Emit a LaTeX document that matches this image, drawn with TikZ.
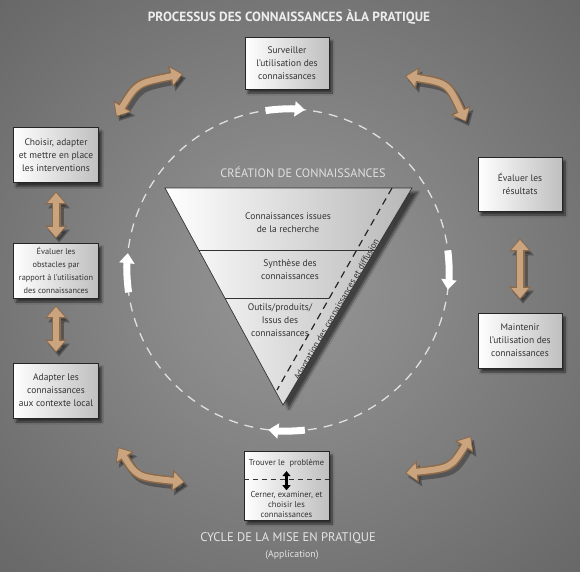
\documentclass[tikz,border=0pt]{standalone}
\usepackage{fontspec}
\setmainfont{PT Sans}
\usetikzlibrary{arrows.meta,shadows,shadows.blur}
\definecolor{bgA}{HTML}{959595}
\definecolor{bgB}{HTML}{8A8A8A}
\definecolor{bgC}{HTML}{6C6C6C}
\definecolor{bgD}{HTML}{585858}
\definecolor{bgE}{HTML}{4A4A4A}
\definecolor{tanc}{HTML}{C9A47F}
\definecolor{tand}{HTML}{8C6A4A}
\definecolor{txt}{HTML}{333333}
\definecolor{ltxt}{HTML}{EDEDED}
\pgfdeclareradialshading{bgshade}{\pgfpoint{0bp}{0bp}}{color(0bp)=(bgA); color(10bp)=(bgB); color(32bp)=(bgC); color(48bp)=(bgD); color(72bp)=(bgE)}
\begin{document}
\begin{tikzpicture}[x=1pt,y=-1pt,
  box/.style={draw=black!85, line width=0.7pt, left color=white, right color=black!25,
    align=center, text=txt, inner sep=1pt, font=\fontsize{9.5}{13}\selectfont,
    blur shadow={shadow xshift=3pt, shadow yshift=-4pt, shadow blur steps=10, shadow opacity=60}},
  tritext/.style={align=center, text=txt, inner sep=1pt, font=\fontsize{9.5}{13}\selectfont},
  btext/.style={align=center, text=txt, inner sep=1pt, font=\fontsize{8.5}{10}\selectfont},
  tanS/.style={line width=9pt, draw=black, opacity=0.3,
    {Triangle[width=21pt,length=13pt]}-{Triangle[width=21pt,length=13pt]},
    transform canvas={xshift=3pt,yshift=-4pt}},
  tanO/.style={line width=9pt, draw=tand,
    {Triangle[width=21pt,length=13pt]}-{Triangle[width=21pt,length=13pt]}},
  tanI/.style={line width=6pt, draw=tanc,
    {Triangle[width=16.5pt,length=10pt]}-{Triangle[width=16.5pt,length=10pt]}},
  warrow/.style={draw=white, line width=7pt, -{Triangle[width=15pt,length=10pt]}},
  blk/.style={draw=black, line width=2.5pt, {Triangle[width=8pt,length=5pt]}-{Triangle[width=8pt,length=5pt]}}
]
\useasboundingbox (0,0) rectangle (580,571);
\shade[shading=bgshade] (0,0) rectangle (580,571);

% title
\node[font=\bfseries\fontsize{13.3}{15}\selectfont, text=ltxt] (title) at (289,17) {PROCESSUS DES CONNAISSANCES ÀLA PRATIQUE};

% dashed cycle circle
\draw[draw=white!88!black, line width=1.3pt, dash pattern=on 9pt off 7pt] (288,270) circle[radius=161];

% white direction arrows on the circle
\draw[warrow] (288,270) ++(262:161) arc[start angle=262, end angle=276, radius=161];
\draw[warrow] (288,270) ++(-7:161) arc[start angle=-7, end angle=7, radius=161];
\draw[warrow] (288,270) ++(84:161) arc[start angle=84, end angle=97, radius=161];
\draw[warrow] (288,270) ++(172:161) arc[start angle=172, end angle=186, radius=161];

% knowledge creation funnel
\node[font=\fontsize{12.2}{14}\selectfont, text=black!12] (crea) at (303,172) {CRÉATION DE CONNAISSANCES};
\coordinate (tA) at (165,188);
\coordinate (tB) at (412,188);
\coordinate (tC) at (283,405);
\path[blur shadow={shadow xshift=6pt, shadow yshift=-4pt, shadow blur steps=10, shadow opacity=55},
  left color=white, right color=black!28, draw=black!80, line width=0.7pt]
  (tA) -- (tB) -- (tC) -- cycle;
\coordinate (l1a) at (198.7,250);
\coordinate (l1b) at (375.1,250);
\coordinate (l2a) at (224.8,298);
\coordinate (l2b) at (329,298);
\draw[black!80, line width=0.7pt] (l1a) -- (l1b);
\draw[black!80, line width=0.7pt] (l2a) -- (l2b);
\coordinate (dA) at (392,188);
\coordinate (dB) at (277,390);
\draw[black!85, line width=1.2pt, dash pattern=on 7pt off 5pt] (dA) -- (dB);
\node[tritext] (t1) at (288,223) {Connaissances issues\\de la recherche};
\node[tritext] (t2) at (290,270) {Synthèse des\\connaissances};
\node[tritext] (t3) at (280,320) {Outils/produits/\\Issus des\\connaissances};
\node[rotate=60, text=txt, inner sep=1pt, font=\fontsize{9}{11}\selectfont] (adapt) at (337,310) {Adaptation des connaissances et diffusion};

% boxes
\node[box, minimum width=84, minimum height=52] (top) at (287,63) {Surveiller\\l’utilisation des\\connaissances};
\node[box, minimum width=85, minimum height=55] (l1) at (56,155) {Choisir, adapter\\et mettre en place\\les interventions};
\node[box, minimum width=85, minimum height=55, font=\fontsize{8.3}{12.8}\selectfont] (l2) at (56,270.5) {Évaluer les\\obstacles par\\rapport à l’utilisation\\des connaissances};
\node[box, minimum width=85, minimum height=55] (l3) at (56,390.5) {Adapter les\\connaissances\\aux contexte local};
\node[box, minimum width=84, minimum height=54] (r1) at (520,184) {Évaluer les\\résultats};
\node[box, minimum width=84, minimum height=55] (r2) at (520,340.5) {Maintenir\\l’utilisation des\\connaissances};
\node[box, minimum width=85, minimum height=69] (bb) at (286.5,485.5) {};
\draw[black!80, line width=0.8pt, dash pattern=on 5pt off 4pt] ([yshift=6.5pt]bb.west) -- ([yshift=6.5pt]bb.east);
\node[btext] (bt1) at (286.5,463) {Trouver le\ \ problème};
\node[btext] (bt2) at (286.5,505) {Cerner, examiner, et\\choisir les\\connaissances};
\draw[blk, shorten <=3pt, shorten >=0.5pt] (bt1) -- (bt2);

\node[font=\fontsize{12.5}{14}\selectfont, text=black!10] (cycle) at (288,538) {CYCLE DE LA MISE EN PRATIQUE};
\node[font=\fontsize{9.8}{12}\selectfont, text=black!10] (appl) at (292,555) {(Application)};

% straight double arrows
\draw[tanS, shorten <=8.5pt, shorten >=4pt] (l1) -- (l2);
\draw[tanO, shorten <=8.5pt, shorten >=4pt] (l1) -- (l2);
\draw[tanI, shorten <=10pt, shorten >=5.5pt] (l1) -- (l2);
\draw[tanS, shorten <=7pt, shorten >=10pt] (l2) -- (l3);
\draw[tanO, shorten <=7pt, shorten >=10pt] (l2) -- (l3);
\draw[tanI, shorten <=8.5pt, shorten >=11.5pt] (l2) -- (l3);
\draw[tanS, shorten <=27pt, shorten >=13pt] (r1) -- (r2);
\draw[tanO, shorten <=27pt, shorten >=13pt] (r1) -- (r2);
\draw[tanI, shorten <=28.5pt, shorten >=14.5pt] (r1) -- (r2);

% curved double arrows
\coordinate (a1s) at (116,117); \coordinate (a1c) at (137,83); \coordinate (a1e) at (183,74);
\coordinate (a2s) at (405,76);  \coordinate (a2c) at (448,83); \coordinate (a2e) at (466,122);
\coordinate (a3s) at (405,473); \coordinate (a3c) at (451,468); \coordinate (a3e) at (471,436);
\coordinate (a4s) at (118,447); \coordinate (a4c) at (137,477); \coordinate (a4e) at (185,482);
\foreach \a in {a1,a2,a3,a4}{
  \draw[tanS] (\a s) .. controls (\a c) .. (\a e);
  \draw[tanO] (\a s) .. controls (\a c) .. (\a e);
  \draw[tanI, shorten <=1.5pt, shorten >=1.5pt] (\a s) .. controls (\a c) .. (\a e);
}
\end{tikzpicture}
\end{document}
